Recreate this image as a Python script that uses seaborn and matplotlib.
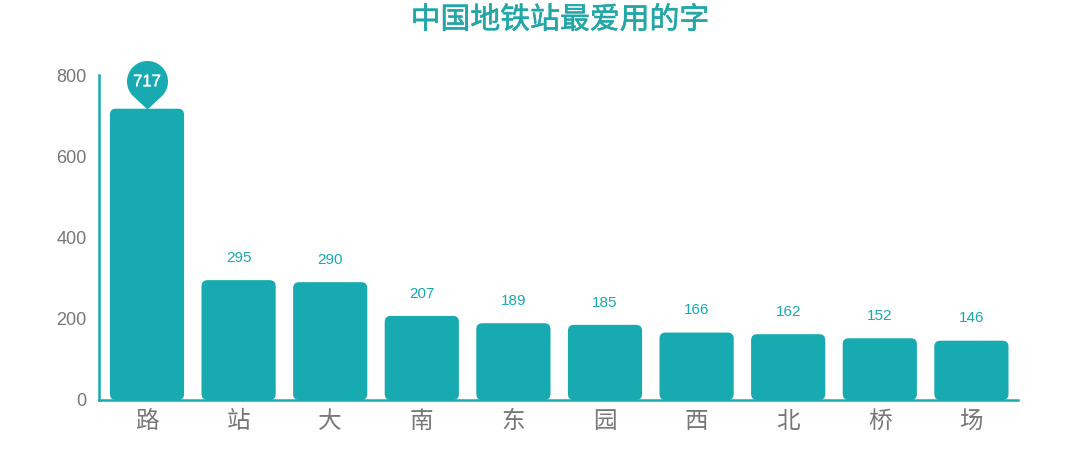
import numpy as np
import pandas as pd
import matplotlib
matplotlib.use("Agg")
import matplotlib.pyplot as plt
import matplotlib.patheffects as pe
import seaborn as sns
from matplotlib.patches import FancyBboxPatch
from matplotlib.path import Path

categories = ["路", "站", "大", "南", "东", "园", "西", "北", "桥", "场"]
counts = [717, 295, 290, 207, 189, 185, 166, 162, 152, 146]
yticks = [0, 200, 400, 600, 800]
title = "中国地铁站最爱用的字"

TEAL = "#17AAB0"
GRAY = "#777777"

sns.set_theme(style="white")
plt.rcParams["font.family"] = ["Noto Sans CJK SC", "DejaVu Sans"]

df = pd.DataFrame({"char": categories, "count": counts})

fig = plt.figure(figsize=(10.8, 4.75), dpi=100)
ax = fig.add_axes([99 / 1080, 75 / 475, (1018 - 99) / 1080, 325 / 475])

sns.barplot(data=df, x="char", y="count", color=TEAL, saturation=1, width=0.81, ax=ax)

px_x = 91.6  # px per x unit
ax.set_xlim((99 - 147) / px_x, (1018 - 147) / px_x)
ax.set_ylim(0, 800)
px_y = 325 / 800  # px per y unit
r_px = 6
rx = r_px / px_x
aspect = (r_px / px_y) / rx
for p in list(ax.patches):
    x0, y0 = p.get_x(), p.get_y()
    w, h = p.get_width(), p.get_height()
    p.remove()
    fb = FancyBboxPatch((x0, y0), w, h,
                        boxstyle=f"round,pad=0,rounding_size={rx}",
                        mutation_aspect=aspect, facecolor=TEAL,
                        edgecolor="none", zorder=2)
    ax.add_patch(fb)

# value labels
for i, v in enumerate(counts):
    if i == 0:
        continue
    ax.annotate(str(v), (i, v), xytext=(0, 16), textcoords="offset points",
                ha="center", va="center", fontsize=11, color=TEAL,
                family=["Liberation Sans", "DejaVu Sans"])

# pin marker for the top value
d, r = 28.0, 20.5
a = np.degrees(np.arccos(r / d))
angs = np.radians(np.linspace(-90 + a, 270 - a, 80))
verts = [(0, 0)] + [(r * np.cos(t), d + r * np.sin(t)) for t in angs] + [(0, 0)]
codes = [Path.MOVETO] + [Path.LINETO] * (len(verts) - 2) + [Path.CLOSEPOLY]
pin = Path(verts, codes)
top = d + r
ms = 2 * top * 72 / 100
ax.plot([0], [counts[0]], marker=pin, markersize=ms, color=TEAL,
        markeredgewidth=0, linestyle="none", zorder=4, clip_on=False)
ax.annotate(str(counts[0]), (0, counts[0]), xytext=(0, (d - 1) * 72 / 100),
            textcoords="offset points", ha="center", va="center",
            fontsize=12, color="white", zorder=5,
            path_effects=[pe.withStroke(linewidth=0.3, foreground="white")],
            family=["Liberation Sans", "DejaVu Sans"])

# axes styling
for s in ["top", "right"]:
    ax.spines[s].set_visible(False)
for s in ["left", "bottom"]:
    ax.spines[s].set_color(TEAL)
    ax.spines[s].set_linewidth(1.8)
    ax.spines[s].set_zorder(3)
ax.set_yticks(yticks)
ax.set_yticklabels([str(t) for t in yticks])
ax.tick_params(axis="y", length=0, pad=9, labelsize=13, labelcolor=GRAY)
ax.tick_params(axis="x", length=0, pad=7, labelsize=17, labelcolor=GRAY)
for lab in ax.get_yticklabels():
    lab.set_family(["Liberation Sans", "DejaVu Sans"])
ax.set_xlabel("")
ax.set_ylabel("")
ax.grid(False)

fig.text(560 / 1080, 1 - 20 / 475, title, ha="center", va="center",
         fontsize=21.5, color="#22A7A6",
         path_effects=[pe.withStroke(linewidth=0.4, foreground="#22A7A6")])

fig.savefig("out.png", dpi=100)
